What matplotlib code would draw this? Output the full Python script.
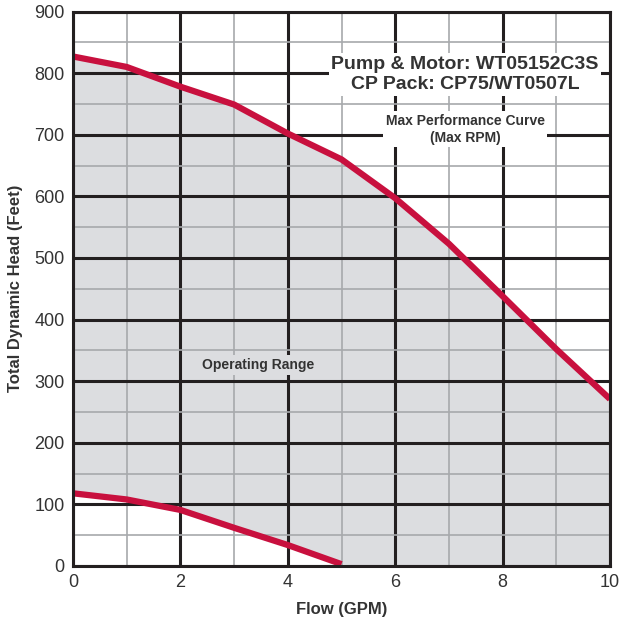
import numpy as np
import matplotlib
matplotlib.use('Agg')
import matplotlib.pyplot as plt

# Pump curve data
flow = [0, 1, 2, 3, 4, 5, 6, 7, 8, 9, 10]
head_max = [827, 810, 778, 749, 702, 660, 597, 523, 438, 352, 271]

flow_min = [0, 1, 2, 3, 4, 5]
head_min = [118, 108, 91, 62, 34, 3]

x_ticks = [0, 2, 4, 6, 8, 10]
y_ticks = [0, 100, 200, 300, 400, 500, 600, 700, 800, 900]

RED = '#c8103e'
FILL = '#dcdde0'
DARK = '#231f20'
TXT = '#333333'

plt.rcParams['font.family'] = ['Liberation Sans', 'DejaVu Sans']

fig = plt.figure(figsize=(6.19, 6.23), dpi=100)
ax = fig.add_axes([73 / 619, 1 - 566 / 623, 537 / 619, 554.5 / 623])

# operating range: between the min curve and the max curve
lower = np.interp(flow, flow_min, head_min, right=0)
ax.fill_between(flow, lower, head_max, color=FILL, zorder=0, linewidth=0)

# grid
ax.set_xticks(np.arange(1, 10, 2), minor=True)
ax.set_yticks(np.arange(50, 900, 100), minor=True)
ax.grid(which='minor', color='#a7a9ac', linewidth=1.2, zorder=1)
ax.grid(which='major', color=DARK, linewidth=2.2, zorder=1)
ax.set_axisbelow(False)

ax.plot(flow, head_max, color=RED, linewidth=4.5, zorder=3, solid_capstyle='butt')
ax.plot(flow_min, head_min, color=RED, linewidth=4.5, zorder=3, solid_capstyle='butt')

ax.set_xlim(0, 10)
ax.set_ylim(0, 900)
ax.set_xticks(x_ticks)
ax.set_yticks(y_ticks)
ax.tick_params(which='both', length=0, labelsize=13, labelcolor=TXT, pad=6)
for s in ax.spines.values():
    s.set_color(DARK)
    s.set_linewidth(2.2)
    s.set_zorder(4)

ax.set_xlabel('Flow (GPM)', fontsize=12, fontweight='bold', color=TXT, labelpad=8)
ax.set_ylabel('Total Dynamic Head (Feet)', fontsize=12, fontweight='bold', color=TXT, labelpad=8)

ax.text(7.3, 798, 'Pump & Motor: WT05152C3S\nCP Pack: CP75/WT0507L', ha='center', va='center',
        fontsize=14, fontweight='bold', color=TXT, linespacing=1.25, zorder=5,
        bbox=dict(facecolor='white', edgecolor='none', pad=2))
ax.text(7.3, 709, 'Max Performance Curve\n(Max RPM)', ha='center', va='center',
        fontsize=10, fontweight='bold', color=TXT, linespacing=1.3, zorder=5,
        bbox=dict(facecolor='white', edgecolor='none', pad=1.5))
ax.text(3.45, 326, 'Operating Range', ha='center', va='center',
        fontsize=10, fontweight='bold', color=TXT, zorder=5,
        bbox=dict(facecolor=FILL, edgecolor='none', pad=2))

fig.savefig('out.png', dpi=100)
